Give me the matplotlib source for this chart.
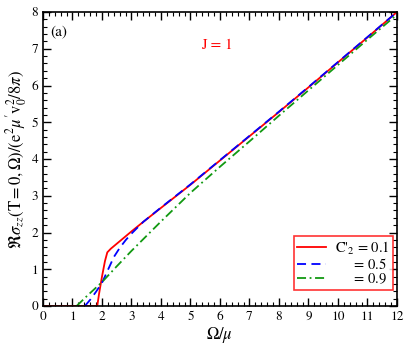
import matplotlib
matplotlib.use("Agg")
import matplotlib.pyplot as plt
from matplotlib.ticker import MultipleLocator

plt.rcParams["font.family"] = "STIXGeneral"
plt.rcParams["mathtext.fontset"] = "stix"

# red, C'_2 = 0.1
x_red = [0.0, 1.84, 1.9, 2.0, 2.1, 2.18, 2.3, 3.0, 3.4, 4.0, 5.0, 6.0, 7.0, 8.0, 9.0, 10.0, 11.0, 12.0]
y_red = [0.0, 0.0, 0.33, 0.8, 1.22, 1.46, 1.56, 2.03, 2.29, 2.67, 3.30, 3.96, 4.62, 5.28, 5.95, 6.63, 7.31, 8.0]

# blue, 0.5
x_blue = [1.42, 1.6, 1.8, 2.0, 2.2, 2.4, 2.6, 2.8, 3.0, 3.4, 4.0, 5.0, 6.0, 7.0, 8.0, 9.0, 10.0, 11.0, 12.0]
y_blue = [0.0, 0.17, 0.39, 0.63, 0.98, 1.33, 1.58, 1.79, 1.97, 2.29, 2.68, 3.31, 3.97, 4.63, 5.29, 5.96, 6.64, 7.32, 8.0]

# green, 0.9
x_green = [1.14, 1.5, 2.0, 2.5, 3.0, 3.5, 4.0, 5.0, 6.0, 7.0, 8.0, 9.0, 10.0, 11.0, 12.0]
y_green = [0.0, 0.28, 0.65, 1.08, 1.5, 1.9, 2.3, 3.08, 3.79, 4.48, 5.18, 5.87, 6.56, 7.25, 7.93]

labels = [r"C$'_2$ = 0.1", r"$\quad\;\,$ = 0.5", r"$\quad\;\,$ = 0.9"]

fig = plt.figure(figsize=(4.15, 3.46), dpi=100)
ax = fig.add_axes([0.1036, 0.1156, 0.853, 0.8497])

ax.plot(x_red, y_red, color="red", lw=1.3, label=labels[0])
ax.plot(x_blue, y_blue, color="blue", lw=1.3, ls=(0, (5, 3)), label=labels[1])
ax.plot(x_green, y_green, color="#119911", lw=1.3, ls=(0, (5, 2, 1, 2)), label=labels[2])

ax.set_xlim(0, 12)
ax.set_ylim(0, 8)
ax.xaxis.set_major_locator(MultipleLocator(1))
ax.xaxis.set_minor_locator(MultipleLocator(0.2))
ax.yaxis.set_major_locator(MultipleLocator(1))
ax.yaxis.set_minor_locator(MultipleLocator(0.2))
ax.tick_params(which="both", direction="in", top=True, right=True, labelsize=9.5)
ax.tick_params(which="major", length=6, width=1)
ax.tick_params(which="minor", length=3, width=0.8)
for s in ax.spines.values():
    s.set_linewidth(1.2)

ax.set_xlabel(r"$\Omega/\mu$", fontsize=12, labelpad=2)
ax.set_ylabel(r"$\Re\sigma_{zz}(\mathrm{T}=0,\Omega)/(\mathrm{e}^2\mu'\mathrm{v}_0^2/8\pi)$", fontsize=12, labelpad=2)

ax.text(0.02, 0.955, "(a)", transform=ax.transAxes, fontsize=11, va="top")
ax.text(0.49, 0.875, "J = 1", transform=ax.transAxes, fontsize=11, color="red", ha="center")

leg = ax.legend(loc="lower right", bbox_to_anchor=(0.99, 0.055), fontsize=10.5,
                frameon=True, fancybox=False, handlelength=2.0,
                borderpad=0.25, labelspacing=0.0, handletextpad=0.6, borderaxespad=0)
leg.get_frame().set_edgecolor("red")
leg.get_frame().set_linewidth(1.2)

fig.savefig("out.png", dpi=100)
